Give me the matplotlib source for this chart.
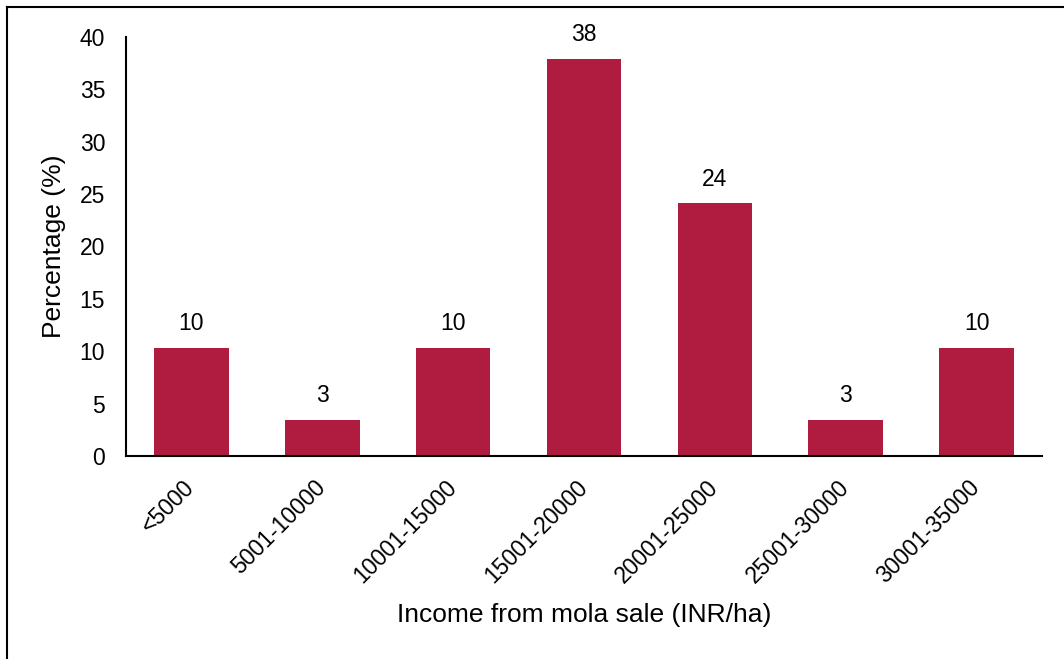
import matplotlib.pyplot as plt
import matplotlib.transforms as mtransforms
import numpy as np

plt.rcParams['font.family'] = ['Liberation Sans', 'DejaVu Sans']

# income classes and share of respondents (%)
categories = ['<5000', '5001-10000', '10001-15000', '15001-20000',
              '20001-25000', '25001-30000', '30001-35000']
percent = [10.34, 3.45, 10.34, 37.93, 24.14, 3.45, 10.34]

fig = plt.figure(figsize=(10.64, 6.59), dpi=100)
ax = fig.add_axes([0.1184, 0.308, 0.861, 0.6361])

x_pos = np.arange(len(categories))
bars = ax.bar(x_pos, percent, width=0.57, color='#AF1C3F')

for bar, v in zip(bars, percent):
    ax.annotate(f'{v:.0f}', (bar.get_x() + bar.get_width() / 2, bar.get_height()),
                xytext=(0, 9), textcoords='offset points',
                ha='center', va='bottom', fontsize=16.5)

ax.set_xlim(-0.5, len(categories) - 0.5)
ax.set_ylim(0, 40)
ax.set_yticks(range(0, 41, 5))
ax.set_xticks(x_pos)
ax.set_xticklabels(categories, rotation=45, ha='right', rotation_mode='anchor')
ax.tick_params(axis='both', length=0, labelsize=16.5)
ax.tick_params(axis='y', pad=15)
ax.tick_params(axis='x', pad=14)

# nudge rotated labels a little to the left, like the original
shift = mtransforms.ScaledTranslation(-6 / 72, 0, fig.dpi_scale_trans)
for lbl in ax.get_xticklabels():
    lbl.set_transform(lbl.get_transform() + shift)

for s in ['top', 'right']:
    ax.spines[s].set_visible(False)
for s in ['left', 'bottom']:
    ax.spines[s].set_linewidth(1.5)

ax.set_ylabel('Percentage (%)', fontsize=19, labelpad=10)
ax.set_xlabel('Income from mola sale (INR/ha)', fontsize=19, labelpad=11)

# outer frame (only left and top edges visible in the crop)
fig.add_artist(plt.Line2D([0.0066, 0.0066], [0.0, 0.9894], color='black', lw=1.5,
                          transform=fig.transFigure))
fig.add_artist(plt.Line2D([0.0066, 1.0], [0.9894, 0.9894], color='black', lw=1.5,
                          transform=fig.transFigure))

fig.savefig('out.png', dpi=100)
